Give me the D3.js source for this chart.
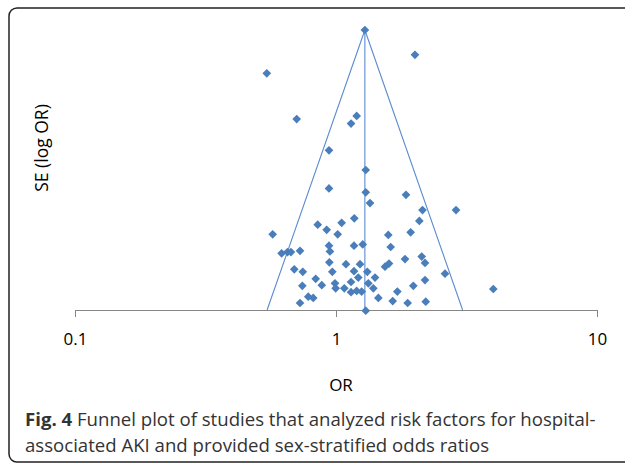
<!DOCTYPE html>
<html>
<head>
<meta charset="utf-8">
<script src="https://cdn.jsdelivr.net/npm/d3@7"></script>
<style>
  html, body { margin: 0; padding: 0; background: #fff; }
  svg { display: block; }
</style>
</head>
<body>
<svg id="chart" width="625" height="463"></svg>
<script>
// ---- data ----
const oddsRatios = [1.29, 0.543, 2.007, 0.707, 1.200, 1.142, 0.940, 1.300, 0.940, 1.300,
  1.350, 1.854, 2.145, 2.883, 0.572, 0.851, 0.921, 1.015, 1.051, 1.175,
  0.940, 0.948, 1.172, 1.266, 0.619, 0.652, 0.672, 0.728, 0.943, 0.692,
  0.746, 0.968, 1.092, 1.236, 1.318, 1.172, 1.217, 1.411, 0.836, 0.882,
  0.743, 0.991, 0.997, 1.076, 1.142, 1.330, 1.142, 1.200, 1.254, 1.390,
  0.783, 0.818, 0.728, 1.300, 2.086, 1.586, 1.932, 1.620, 1.838, 2.130,
  2.193, 1.541, 1.596, 2.193, 2.616, 1.978, 1.718, 1.453, 1.649, 1.882,
  2.207, 4.006];
const standardErrors = [0.000, 0.068, 0.039, 0.140, 0.135, 0.147, 0.189, 0.220, 0.249, 0.255,
  0.272, 0.259, 0.283, 0.283, 0.321, 0.306, 0.314, 0.321, 0.303, 0.296,
  0.339, 0.348, 0.339, 0.337, 0.351, 0.349, 0.349, 0.347, 0.365, 0.376,
  0.380, 0.380, 0.368, 0.368, 0.380, 0.379, 0.389, 0.389, 0.391, 0.401,
  0.402, 0.398, 0.406, 0.406, 0.396, 0.398, 0.412, 0.410, 0.411, 0.406,
  0.419, 0.421, 0.429, 0.441, 0.300, 0.322, 0.318, 0.341, 0.360, 0.356,
  0.366, 0.372, 0.367, 0.393, 0.383, 0.402, 0.411, 0.421, 0.426, 0.429,
  0.427, 0.407];
const pooledOR = 1.29;
const seMax = 0.44;
const xTickValues = [0.1, 1, 10];
const xTickLabels = ["0.1", "1", "10"];
const xTitle = "OR";
const yTitle = "SE (log OR)";
const captionBold = "Fig. 4";
const captionLine1 = " Funnel plot of studies that analyzed risk factors for hospital-";
const captionLine2 = "associated AKI and provided sex-stratified odds ratios";

// ---- drawing ----
const svg = d3.select("#chart");
const blue = "#4a7ebb";

// frame
svg.append("rect")
  .attr("x", 9).attr("y", 8)
  .attr("width", 660).attr("height", 454)
  .attr("rx", 8).attr("ry", 8)
  .attr("fill", "none").attr("stroke", "#222").attr("stroke-width", 1.5);

const x = d3.scaleLog().domain([0.1, 10]).range([75, 597]);
const y = d3.scaleLinear().domain([0, seMax]).range([30, 310]);

// x axis
const xAxis = d3.axisBottom(x)
  .tickValues(xTickValues)
  .tickFormat((d, i) => xTickLabels[i])
  .tickSizeInner(7).tickSizeOuter(0).tickPadding(16);
const gx = svg.append("g").attr("transform", `translate(0,${y(seMax)})`).call(xAxis);
gx.select(".domain").attr("stroke", "#868686").attr("stroke-width", 1);
gx.selectAll(".tick line").attr("stroke", "#868686");
gx.selectAll(".tick text").attr("fill", "#000")
  .style("font-family", "'Open Sans', sans-serif").style("font-size", "17px");

// funnel lines
const z = 1.96;
const lnP = Math.log(pooledOR);
const funnel = [
  [[Math.exp(lnP - z * seMax), seMax], [pooledOR, 0], [Math.exp(lnP + z * seMax), seMax]],
  [[pooledOR, 0], [pooledOR, seMax]]
];
const line = d3.line().x(d => x(d[0])).y(d => y(d[1]));
svg.selectAll("path.funnel").data(funnel).enter().append("path")
  .attr("class", "funnel")
  .attr("d", line)
  .attr("fill", "none").attr("stroke", "#5b8bd0").attr("stroke-width", 1.1);

// points
const pts = oddsRatios.map((v, i) => ({ or: v, se: standardErrors[i] }));
const sym = d3.symbol().type(d3.symbolSquare).size(38);
svg.selectAll("path.pt").data(pts).enter().append("path")
  .attr("class", "pt")
  .attr("d", sym)
  .attr("transform", d => `translate(${x(d.or)},${y(d.se)}) rotate(45)`)
  .attr("fill", blue);

// titles
svg.append("text")
  .attr("x", x(1) + 5).attr("y", 391)
  .attr("text-anchor", "middle")
  .style("font-family", "'Open Sans', sans-serif").style("font-size", "17px")
  .attr("fill", "#000").text(xTitle);

svg.append("text")
  .attr("transform", "translate(48,148) rotate(-90)")
  .attr("text-anchor", "middle")
  .style("font-family", "'Open Sans', sans-serif").style("font-size", "17.5px")
  .attr("fill", "#000").text(yTitle);

// caption
const cap = svg.append("text")
  .attr("x", 25).attr("y", 426)
  .style("font-family", "'Open Sans', sans-serif").style("font-size", "18.6px")
  .attr("fill", "#333");
cap.append("tspan").attr("font-weight", "bold").text(captionBold);
cap.append("tspan").text(captionLine1);
svg.append("text")
  .attr("x", 25).attr("y", 452)
  .style("font-family", "'Open Sans', sans-serif").style("font-size", "18.6px")
  .attr("fill", "#333").text(captionLine2);
</script>
</body>
</html>
